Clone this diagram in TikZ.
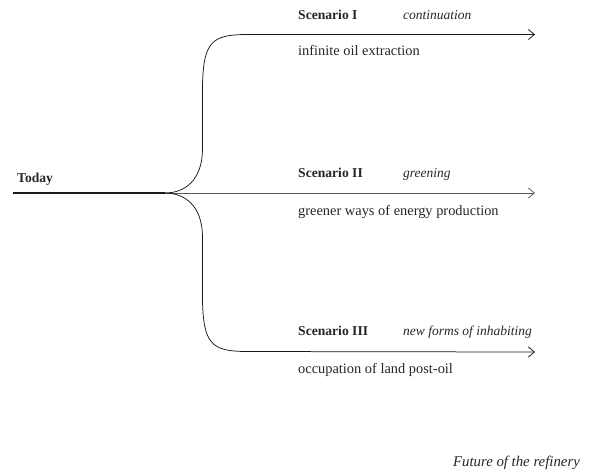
\documentclass[tikz,border=0pt]{standalone}
\usepackage{fontspec}
\setmainfont{Liberation Serif}
\usetikzlibrary{arrows.meta}
\begin{document}
\begin{tikzpicture}[x=1pt,y=-1pt,
  txt/.style={inner sep=0pt,anchor=base west,text=black!85,font=\fontsize{14.4}{16}\selectfont},
  lbl/.style={txt,font=\fontsize{13.6}{16}\selectfont\bfseries},
  sub/.style={txt,font=\fontsize{13.5}{16}\selectfont\itshape},
  ttl/.style={txt,anchor=base east,font=\fontsize{14.8}{16}\selectfont\itshape},
  branch/.style={draw=black!90,line width=0.75pt,-{Straight Barb[length=6pt,width=10pt,line width=0.75pt]}},
  trunk/.style={draw=black!90,line width=1.2pt}]
\useasboundingbox (0,0) rectangle (596,475);
% coordinates
\coordinate (start) at (13,193);
\coordinate (split) at (165,193);
\coordinate (end1) at (535,34.5);
\coordinate (end2) at (535,193);
\coordinate (end3) at (535,352);
% texts
\node[lbl] (today) at (17,182) {Today};
\node[lbl] (s1) at (298,19) {Scenario I};
\node[sub] (i1) at (403,19) {continuation};
\node[txt] (d1) at (298,55) {infinite oil extraction};
\node[lbl] (s2) at (298,177) {Scenario II};
\node[sub] (i2) at (403,177) {greening};
\node[txt] (d2) at (298,215) {greener ways of energy production};
\node[lbl] (s3) at (298,335) {Scenario III};
\node[sub] (i3) at (403,335) {new forms of inhabiting};
\node[txt] (d3) at (298,373) {occupation of land post-oil};
\node[ttl] (title) at (580,466) {Future of the refinery};
% connectors
\draw[trunk] (start) -- (split);
\draw[branch,draw=black!65,line width=0.65pt] (split) -- (end2);
\draw[branch] (split) .. controls (185,193) and (202,180) .. (202.5,150)
  -- (202.5,85) .. controls (203.5,42) and (212,35) .. (245,34.5) -- (end1);
\draw[branch] (split) .. controls (185,193) and (202,206) .. (202.5,236)
  -- (202.5,301) .. controls (203.5,344) and (212,351) .. (245,351.5) -- (end3);
\end{tikzpicture}
\end{document}
